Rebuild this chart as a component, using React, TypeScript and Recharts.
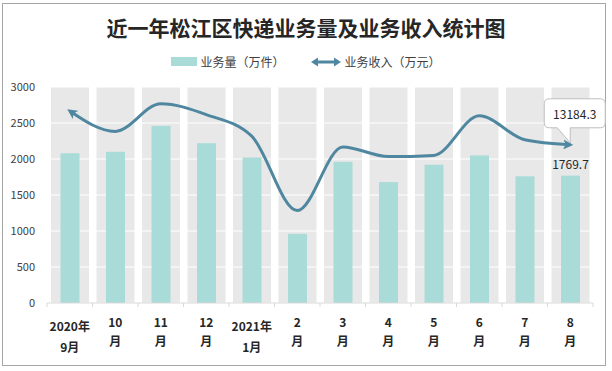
import React from "react"
import { ComposedChart, Bar, Line, XAxis, YAxis, CartesianGrid, LabelList } from "recharts"

// months (x categories) and their two-line tick labels
const months = ["2020年9月", "10月", "11月", "12月", "2021年1月", "2月", "3月", "4月", "5月", "6月", "7月", "8月"]
const tickLines = [
  ["2020年", "9月"],
  ["10", "月"],
  ["11", "月"],
  ["12", "月"],
  ["2021年", "1月"],
  ["2", "月"],
  ["3", "月"],
  ["4", "月"],
  ["5", "月"],
  ["6", "月"],
  ["7", "月"],
  ["8", "月"],
]
// 业务量（万件）
const volume = [2080, 2100, 2460, 2220, 2020, 960, 1960, 1680, 1920, 2050, 1760, 1769.7]
// 业务收入（万元）
const revenue = [16000, 14300, 16600, 15700, 13900, 7700, 13000, 12200, 12300, 15600, 13600, 13184.3]
const leftTicks = [0, 500, 1000, 1500, 2000, 2500, 3000]

const BAR_COLOR = "#a9dcd8"
const BAND_COLOR = "#e8e8e8"
const LINE_COLOR = "#4f87a0"

const data = months.map((m, i) => ({ month: m, volume: volume[i], revenue: revenue[i] }))

function MonthTick(props: any) {
  const { x, y, payload, index, width, visibleTicksCount } = props
  const step = width && visibleTicksCount ? width / visibleTicksCount : 45.5
  const lines = tickLines[index] || [payload.value]
  const isYear = lines[0].includes("年")
  const d1 = isYear ? 22 : 18.5
  const d2 = isYear ? 43.5 : 37.5
  return (
    <g>
      <line x1={x - step / 2} x2={x - step / 2} y1={y} y2={y + 4} stroke="#d9d9d9" />
      {index === months.length - 1 && <line x1={x + step / 2} x2={x + step / 2} y1={y} y2={y + 4} stroke="#d9d9d9" />}
      <text x={x} y={y + d1} textAnchor="middle" dominantBaseline="central" fontSize={12} fontWeight={700} fill="#262626">
        {lines[0]}
      </text>
      <text x={x} y={y + d2} textAnchor="middle" dominantBaseline="central" fontSize={12} fontWeight={700} fill="#262626">
        {lines[1]}
      </text>
    </g>
  )
}

function NarrowBar(props: any) {
  const { x, y, width, height } = props
  const w = 19
  return <rect x={x + (width - w) / 2} y={y} width={w} height={height} fill={BAR_COLOR} />
}

function LastBarLabel(props: any) {
  const { x, y, width, index, value } = props
  if (index !== volume.length - 1) return null
  return (
    <text x={x + width / 2} y={y - 12} textAnchor="middle" dominantBaseline="central" fontSize={12} fill="#262626">
      {value}
    </text>
  )
}

function Callout(props: any) {
  const { x, y, index, value } = props
  if (index !== revenue.length - 1) return null
  const L = x - 26
  const R = x + 35
  const T = y - 46
  const B = y - 17
  const r = 5
  const d = `M${L + r},${T} H${R - r} Q${R},${T} ${R},${T + r} V${B - r} Q${R},${B} ${R - r},${B} H${x} V${y - 2} L${x - 13},${B} H${L + r} Q${L},${B} ${L},${B - r} V${T + r} Q${L},${T} ${L + r},${T} Z`
  return (
    <g>
      <path d={d} fill="#fff" stroke="#bfbfbf" />
      <text x={(L + R) / 2} y={(T + B) / 2} textAnchor="middle" dominantBaseline="central" fontSize={12} fill="#262626">
        {value}
      </text>
    </g>
  )
}

export default function App() {
  return (
    <div
      style={{
        position: "absolute",
        left: 0,
        top: 0,
        width: 612,
        height: 371,
        background: "#fff",
        fontFamily: '"Noto Sans CJK SC", "Noto Sans", sans-serif',
      }}
    >
      <svg width={0} height={0} style={{ position: "absolute" }}>
        <defs>
          <marker id="arrowHead" viewBox="0 0 10 10" refX="7" refY="5" markerUnits="userSpaceOnUse" markerWidth="10" markerHeight="10" orient="auto-start-reverse">
            <path d="M0,0 L10,5 L0,10 L2.5,5 Z" fill={LINE_COLOR} />
          </marker>
        </defs>
      </svg>
      <div
        style={{
          position: "absolute",
          left: 2,
          top: 3,
          width: 602,
          height: 361,
          border: "1px solid #a6a6a6",
        }}
      />
      <div
        style={{
          position: "absolute",
          left: 0,
          top: 14,
          width: 612,
          lineHeight: "26px",
          textAlign: "center",
          fontSize: 21,
          fontWeight: 700,
          color: "#262626",
        }}
      >
        近一年松江区快递业务量及业务收入统计图
      </div>
      <div
        style={{
          position: "absolute",
          left: 0,
          top: 53,
          width: 612,
          height: 17,
          display: "flex",
          justifyContent: "center",
          alignItems: "center",
          fontSize: 12,
          color: "#404040",
        }}
      >
        <span style={{ display: "inline-block", width: 26, height: 9, background: BAR_COLOR, marginRight: 3 }} />
        <span>业务量（万件）</span>
        <svg width={30} height={12} style={{ marginLeft: 26, marginRight: 4 }}>
          <line x1={5} x2={25} y1={6} y2={6} stroke={LINE_COLOR} strokeWidth={3} />
          <path d="M0,6 L7,1.5 L7,10.5 Z" fill={LINE_COLOR} />
          <path d="M30,6 L23,1.5 L23,10.5 Z" fill={LINE_COLOR} />
        </svg>
        <span>业务收入（万元）</span>
      </div>
      <div style={{ position: "absolute", left: 0, top: 0 }}>
        <ComposedChart width={612} height={371} data={data} margin={{ top: 87, right: 19, left: 0, bottom: 0 }}>
          <XAxis
            dataKey="month"
            height={68}
            axisLine={{ stroke: "#d9d9d9" }}
            tickLine={false}
            tickSize={0}
            tickMargin={0}
            interval={0}
            tick={<MonthTick />}
          />
          <YAxis
            yAxisId="left"
            width={47}
            domain={[0, 3000]}
            ticks={leftTicks}
            axisLine={false}
            tickLine={false}
            tickMargin={6}
            tick={{ fontSize: 11, fill: "#404040" }}
          />
          <YAxis yAxisId="right" orientation="right" hide domain={[0, 18000]} />
          <CartesianGrid vertical={false} stroke="#ffffff" yAxisId="left" zIndex={-40} />
          <Bar
            yAxisId="left"
            dataKey="volume"
            barSize={38}
            background={{ fill: BAND_COLOR }}
            shape={<NarrowBar />}
            isAnimationActive={false}
          >
            <LabelList dataKey="volume" content={<LastBarLabel />} />
          </Bar>
          <Line
            yAxisId="right"
            type="monotone"
            dataKey="revenue"
            stroke={LINE_COLOR}
            strokeWidth={3}
            dot={false}
            activeDot={false}
            markerStart="url(#arrowHead)"
            markerEnd="url(#arrowHead)"
            isAnimationActive={false}
          >
            <LabelList dataKey="revenue" content={<Callout />} />
          </Line>
        </ComposedChart>
      </div>
    </div>
  )
}
